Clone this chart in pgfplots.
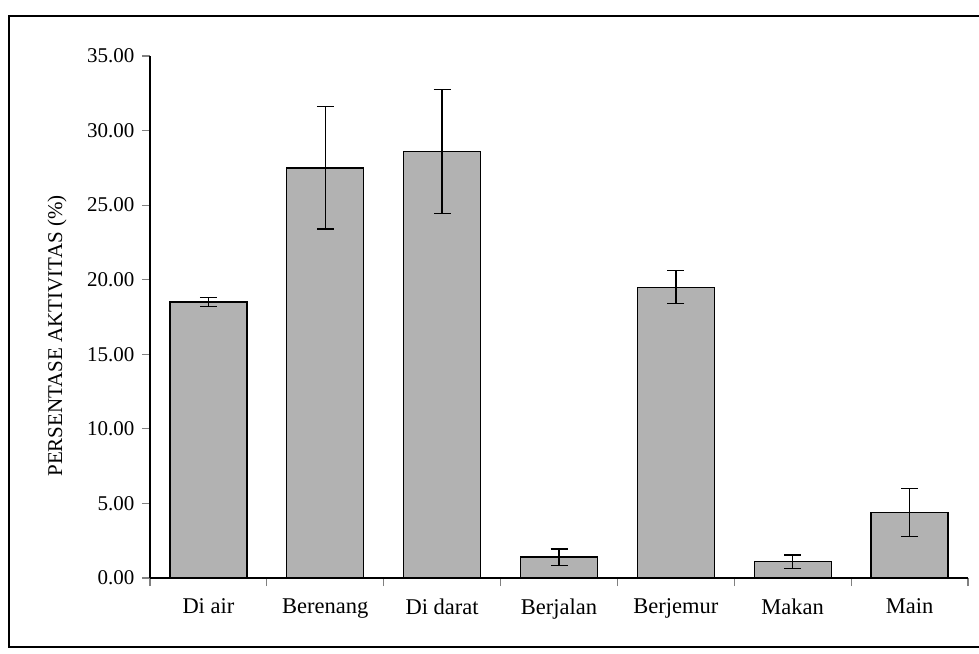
\documentclass[border=0pt]{standalone}
\usepackage{pgfplots}
\pgfplotsset{compat=1.18}
\usepackage{fontspec}
\setmainfont{Liberation Serif}
\begin{document}
\begin{tikzpicture}
\useasboundingbox (-150pt,-75pt) rectangle (829pt,578pt);
\begin{axis}[
  scale only axis,
  width=818pt, height=522pt,
  at={(0pt,0pt)}, anchor=south west,
  xmin=-0.5, xmax=6.5, ymin=0, ymax=35,
  axis x line*=bottom, axis y line*=left,
  axis line style={line width=1.2pt, -},
  ytick={0,5,...,35},
  /pgf/number format/fixed,
  /pgf/number format/fixed zerofill,
  /pgf/number format/precision=2,
  /pgf/number format/assume math mode=true,
  yticklabel style={font=\fontsize{21}{24}\selectfont, xshift=-4pt},
  xtick={0,...,6},
  xticklabels={Di air, Berenang, Di darat, Berjalan, Berjemur, Makan, Main},
  xticklabel style={font=\fontsize{22.5}{26}\selectfont, yshift=-9pt},
  major x tick style={draw=none},
  minor xtick={-0.5,0.5,...,6.5},
  minor x tick style={line width=1.2pt},
  major y tick style={line width=1.2pt},
  tick align=outside,
  major tick length=8pt, minor tick length=8pt,
  clip=false,
]
\addplot[ybar, bar width=77pt, fill=black!30, draw=black, line width=1.3pt,
  error bars/.cd, y dir=both, y explicit,
  error bar style={line width=1.3pt},
  error mark options={rotate=90, mark size=8.5pt, line width=1.3pt}]
coordinates {
  (0,18.5) +- (0,0.3)
  (1,27.5) +- (0,4.1)
  (2,28.6) +- (0,4.15)
  (3,1.4) +- (0,0.55)
  (4,19.5) +- (0,1.1)
  (5,1.1) +- (0,0.45)
  (6,4.4) +- (0,1.6)
};
\end{axis}
\draw[line width=1.3pt] (829pt,562pt) -- (-141pt,562pt) -- (-141pt,-69pt) -- (829pt,-69pt);
\node[rotate=90, font=\fontsize{21}{24}\selectfont] at (-93pt,242pt) {PERSENTASE AKTIVITAS (\%)};
\end{tikzpicture}
\end{document}
